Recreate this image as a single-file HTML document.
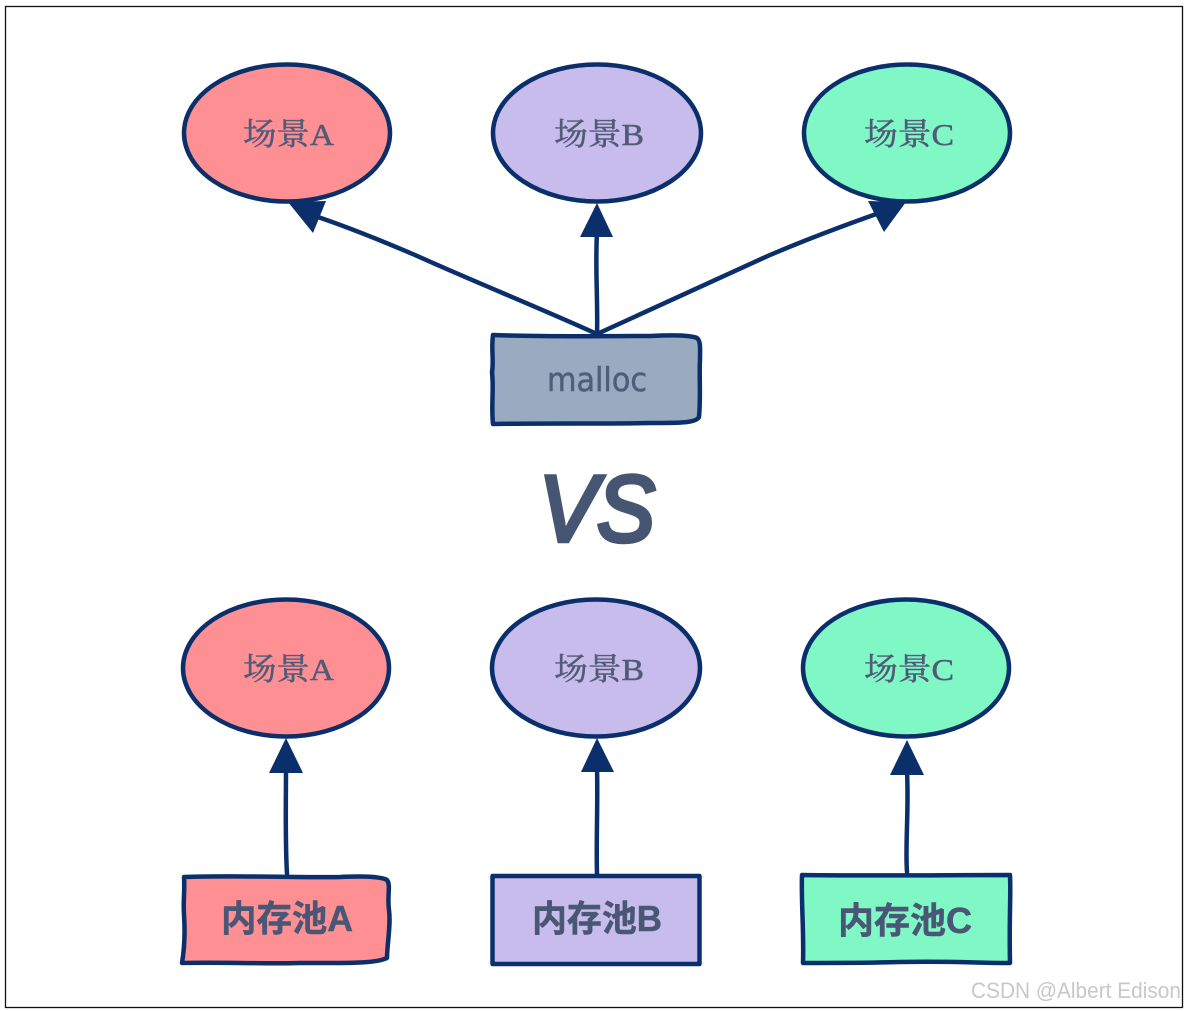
<!DOCTYPE html>
<html><head><meta charset="utf-8"><style>
html,body{margin:0;padding:0;background:#fff}
svg{display:block}
.s{font-family:"Liberation Serif","Noto Serif CJK SC",serif;font-size:31px;fill:#515a78;stroke:#515a78;stroke-width:.5px}
.b{font-family:"Liberation Sans","Noto Sans CJK SC",sans-serif;font-size:36px;font-weight:700;fill:#4a5675;stroke:#4a5675;stroke-width:.5px}
</style></head><body>
<svg width="1187" height="1011" viewBox="0 0 1187 1011" xmlns="http://www.w3.org/2000/svg">
<rect x="5.5" y="6.5" width="1177" height="1001" fill="#fff" stroke="#111" stroke-width="1.3"/>
<g stroke="#0b2f6b" stroke-width="4.500" fill="none" stroke-linecap="round" stroke-linejoin="round">
<path d="M597 334C540 308 470 280 415 255C380 240 345 226 312 215"/>
<path d="M597 334C598 300 595 270 597 232"/>
<path d="M597 334C650 310 710 282 770 255C810 238 845 225 882 212"/>
<path d="M287 874C285 840 286 800 286 768"/>
<path d="M597 874C596 840 598 805 597 768"/>
<path d="M907 872C905 845 909 810 907 772"/>
</g>
<g fill="#0b2f6b">
<polygon points="288,202 326,201 313,233"/>
<polygon points="597,203 613,237 580,237"/>
<polygon points="906,202 868,201 884,232"/>
<polygon points="286,738 303,773 269,773"/>
<polygon points="597,738 614,772 581,772"/>
<polygon points="907,740 924,775 890,775"/>
</g>
<g stroke="#0b2f6b" stroke-width="4.500">
<ellipse cx="287" cy="133" rx="103" ry="68.500" fill="#fe8f92"/>
<ellipse cx="597" cy="133" rx="104" ry="68.500" fill="#c8bcec"/>
<ellipse cx="907" cy="133" rx="103" ry="68.500" fill="#80f8c6"/>
<ellipse cx="286" cy="668" rx="103" ry="68.500" fill="#fe8f92"/>
<ellipse cx="596" cy="668" rx="104" ry="68.500" fill="#c8bcec"/>
<ellipse cx="906" cy="668" rx="103" ry="68.500" fill="#80f8c6"/>
<g stroke-linejoin="round">
<path d="M493 335C540 337 600 336 650 336C670 335 690 335 697 338C701 341 700 350 700 360C699 375 701 395 699 417C696 423 680 423 650 423C600 424 550 423 493 424C491 405 494 390 492 372C494 360 491 350 493 335Z" fill="#9aaac1"/>
<path d="M184 877C240 875 300 878 340 877C360 876 380 876 387 880C391 885 387 895 389 910C391 925 387 945 387 958C375 964 340 963 300 963C260 964 220 962 182 963C185 945 185 930 184 915C183 900 185 890 184 877Z" fill="#fe8f92"/>
<rect x="492.500" y="876" width="207" height="88" fill="#c8bcec"/>
<path d="M802 875C860 876 950 875 1010 875C1011 895 1009 920 1010 963C980 963 950 961 900 962C870 963 830 963 803 963C804 930 801 900 802 875Z" fill="#80f8c6"/>
</g>
</g>
<text class="s" x="243" y="145" textLength="91" lengthAdjust="spacingAndGlyphs">场景A</text>
<text class="s" x="554" y="145" textLength="90" lengthAdjust="spacingAndGlyphs">场景B</text>
<text class="s" x="864" y="145" textLength="90" lengthAdjust="spacingAndGlyphs">场景C</text>
<text class="s" x="243" y="680" textLength="91" lengthAdjust="spacingAndGlyphs">场景A</text>
<text class="s" x="554" y="680" textLength="90" lengthAdjust="spacingAndGlyphs">场景B</text>
<text class="s" x="864" y="680" textLength="90" lengthAdjust="spacingAndGlyphs">场景C</text>
<text x="547" y="391" textLength="100" lengthAdjust="spacingAndGlyphs" style="font-family:'DejaVu Sans',sans-serif;font-size:33px;fill:#4f5d78;stroke:#4f5d78;stroke-width:.5px">malloc</text>
<text x="539" y="541" textLength="116" lengthAdjust="spacingAndGlyphs" style="font-family:'Liberation Sans',sans-serif;font-size:94px;font-style:italic;fill:#465672;stroke:#465672;stroke-width:4.500px">VS</text>
<text class="b" x="221" y="931" textLength="132" lengthAdjust="spacingAndGlyphs">内存池A</text>
<text class="b" x="532" y="931" textLength="130" lengthAdjust="spacingAndGlyphs">内存池B</text>
<text class="b" x="838" y="933" textLength="134" lengthAdjust="spacingAndGlyphs">内存池C</text>
<text x="971" y="998" textLength="210" lengthAdjust="spacingAndGlyphs" style="font-family:'Liberation Sans',sans-serif;font-size:22px;fill:#c8c8c8">CSDN @Albert Edison</text>
</svg>
</body></html>
